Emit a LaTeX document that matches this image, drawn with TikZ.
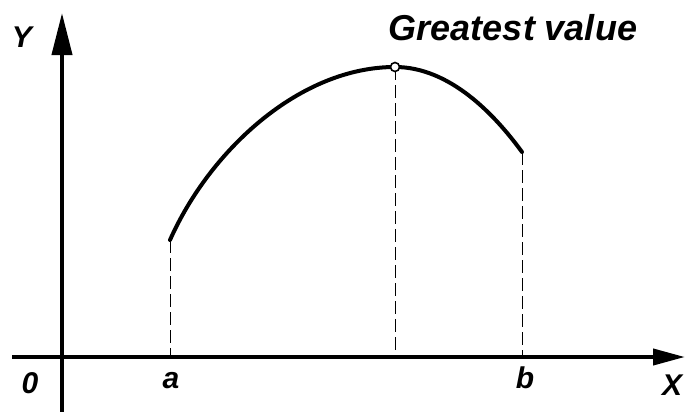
\documentclass[tikz,border=0pt]{standalone}
\usepackage{fontspec}
\setmainfont{Liberation Sans}
\usepackage{tikz}
\usetikzlibrary{arrows.meta}

\begin{document}
\begin{tikzpicture}[x=0.5pt, y=-0.5pt,
    axislabel/.style={font=\fontsize{15}{17}\selectfont\bfseries\itshape, inner sep=0pt},
    guide/.style={line width=0.5pt, dash pattern=on 6.5pt off 2.5pt},
    curveline/.style={line width=2pt, line cap=round},
    axisline/.style={line width=2pt}]
\useasboundingbox (0,0) rectangle (685,412);

% Axes end points
\coordinate (O) at (62,357);
\coordinate (Xstart) at (12,357);
\coordinate (Xend) at (685,357);
\coordinate (Ystart) at (62,412);
\coordinate (Yend) at (62,13);

% Points of the curve
\coordinate (A) at (170,240);
\coordinate (M) at (395,67);
\coordinate (B) at (522,152);

% Dashed guides
\draw[guide] (A) -- (A |- O);
\draw[guide] (M) -- (M |- O);
\draw[guide] (B) -- (B |- O);

% Curve
\draw[curveline] (A) .. controls (210,150) and (300,67) .. (M)
                     .. controls (450,67) and (495,115) .. (B);

% Axes
\draw[axisline, -{Triangle[length=16pt, width=8pt]}] (Xstart) -- (Xend);
\draw[axisline, -{Triangle[length=21pt, width=10pt]}] (Ystart) -- (Yend);

% Greatest point
\node[circle, draw, fill=white, line width=0.8pt, inner sep=0pt, minimum size=4.5pt] (Mdot) at (M) {};

% Labels
\node[axislabel] (ylab) at (22,37) {Y};
\node[axislabel] (xlab) at (672,385) {X};
\node[axislabel] (olab) at (30,383) {0};
\node[axislabel] (alab) at (171,381) {a};
\node[axislabel] (blab) at (525,378) {b};
\node[font=\fontsize{18}{20}\selectfont\bfseries\itshape, inner sep=0pt] (top) at (513,28) {Greatest value};
\end{tikzpicture}
\end{document}
